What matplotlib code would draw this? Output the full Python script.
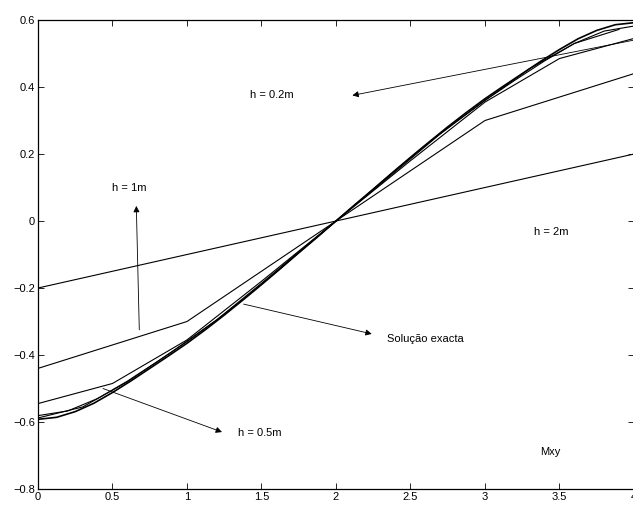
import matplotlib
matplotlib.use('Agg')
import matplotlib.pyplot as plt
import numpy as np

plt.rcParams['font.family'] = ['Liberation Sans', 'DejaVu Sans']

# ==================== dados ====================
# solução exacta
x_exact = [0, 0.125, 0.25, 0.375, 0.5, 0.625, 0.75, 0.875, 1.0, 1.125, 1.25, 1.375, 1.5, 1.625, 1.75, 1.875, 2.0,
           2.125, 2.25, 2.375, 2.5, 2.625, 2.75, 2.875, 3.0, 3.125, 3.25, 3.375, 3.5, 3.625, 3.75, 3.875, 4.0]
y_exact = [-0.592, -0.586, -0.569, -0.544, -0.512, -0.477, -0.44, -0.403, -0.365, -0.324, -0.281, -0.236,
           -0.19, -0.143, -0.095, -0.048, 0.0,
           0.048, 0.095, 0.143, 0.19, 0.236, 0.281, 0.324, 0.365, 0.403, 0.44, 0.477, 0.512, 0.544, 0.569,
           0.586, 0.592]

# h = 0.2m
x_h02 = [0, 0.2, 0.4, 0.6, 0.8, 1.0, 1.2, 1.4, 1.6, 1.8, 2.0,
         2.2, 2.4, 2.6, 2.8, 3.0, 3.2, 3.4, 3.6, 3.8, 4.0]
y_h02 = [-0.581, -0.567, -0.53, -0.478, -0.42, -0.36, -0.295, -0.226, -0.152, -0.076, 0.0,
         0.076, 0.152, 0.226, 0.295, 0.36, 0.42, 0.478, 0.53, 0.567, 0.582]

# curva intermédia (sem legenda)
x_h03 = [0, 0.3, 0.6, 0.9, 1.2, 1.5, 1.8, 2.1, 2.4, 2.7, 3.0, 3.3, 3.6, 3.9]
y_h03 = [-0.588, -0.555, -0.48, -0.39, -0.295, -0.186, -0.074, 0.037, 0.148, 0.26, 0.36, 0.455, 0.53, 0.572]

# h = 0.5m
x_h05 = [0, 0.5, 1.0, 1.5, 2.0, 2.5, 3.0, 3.5, 4.0]
y_h05 = [-0.545, -0.485, -0.355, -0.18, 0.0, 0.18, 0.355, 0.485, 0.545]

# h = 1m
x_h1 = [0, 1, 2, 3, 4]
y_h1 = [-0.44, -0.30, 0.0, 0.30, 0.44]

# h = 2m
x_h2 = [0, 2, 4]
y_h2 = [-0.2, 0.0, 0.2]

# ==================== figura ====================
fig = plt.figure(figsize=(6.33, 5.07), dpi=100)
ax = fig.add_axes([0.060, 0.0355, 0.9415, 0.925])

ax.plot(x_h2, y_h2, color='k', lw=0.8)
ax.plot(x_h1, y_h1, color='k', lw=0.8)
ax.plot(x_h05, y_h05, color='k', lw=0.8)
ax.plot(x_h03, y_h03, color='k', lw=0.8)
ax.plot(x_h02, y_h02, color='k', lw=0.8)
ax.plot(x_exact, y_exact, color='k', lw=1.2)

ax.set_xlim(0, 4)
ax.set_ylim(-0.8, 0.6)
ax.set_xticks(np.arange(0, 4.01, 0.5))
ax.set_xticklabels(['0', '0.5', '1', '1.5', '2', '2.5', '3', '3.5', '4'])
ax.set_yticks(np.arange(-0.8, 0.61, 0.2))
ax.set_yticklabels(['\u22120.8', '\u22120.6', '\u22120.4', '\u22120.2', '0', '0.2', '0.4', '0.6'])
ax.tick_params(direction='in', top=True, right=True, labelsize=8, length=4, width=0.6, pad=2)
for s in ax.spines.values():
    s.set_linewidth(0.9)

# ==================== anotações ====================
arrow = dict(arrowstyle='-|>', color='k', lw=0.6, mutation_scale=9, shrinkA=0, shrinkB=0)
fs = 8

ax.annotate('', xy=(2.11, 0.375), xytext=(4.0, 0.54), arrowprops=arrow)
ax.text(1.42, 0.376, 'h = 0.2m', fontsize=fs, va='center')

ax.annotate('', xy=(0.66, 0.045), xytext=(0.68, -0.325), arrowprops=arrow)
ax.text(0.5, 0.10, 'h = 1m', fontsize=fs, va='center')

ax.text(3.33, -0.033, 'h = 2m', fontsize=fs, va='center')

ax.annotate('', xy=(2.24, -0.337), xytext=(1.38, -0.248), arrowprops=arrow)
ax.text(2.34, -0.352, 'Solução exacta', fontsize=fs, va='center')

ax.annotate('', xy=(1.235, -0.63), xytext=(0.436, -0.50), arrowprops=arrow)
ax.text(1.34, -0.632, 'h = 0.5m', fontsize=fs, va='center')

ax.text(3.37, -0.69, 'Mxy', fontsize=fs, va='center')

fig.savefig('out.png', dpi=100, facecolor='white')
